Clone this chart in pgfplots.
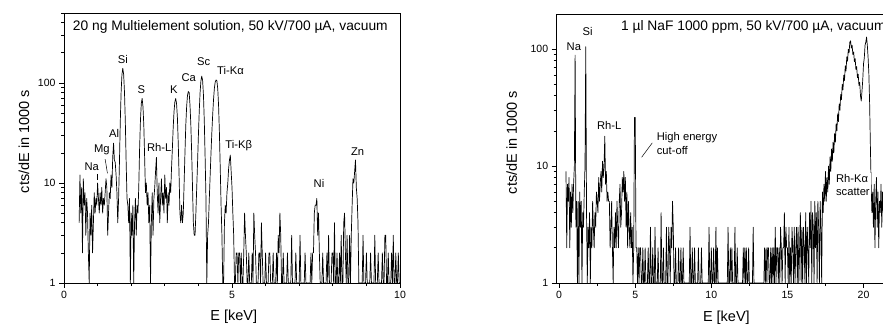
\documentclass[border=0pt]{standalone}
\usepackage{fontspec}
\setmainfont{Liberation Sans}
\usepackage{pgfplots}
\pgfplotsset{compat=1.18}

\begin{document}
\begin{tikzpicture}
\useasboundingbox (0pt,0pt) rectangle (883pt,325pt);

\begin{axis}[
  at={(64pt,42pt)}, anchor=south west,
  scale only axis, width=336pt, height=270pt,
  ymode=log,
  xmin=0, xmax=10, ymin=1, ymax=500,
  xtick={0,5,10}, minor x tick num=4,
  tick align=outside, tick pos=left,
  major tick length=5pt, minor tick length=3pt,
  tick style={black, line width=0.7pt},
  axis line style={line width=0.8pt},
  log ticks with fixed point,
  ticklabel style={font=\fontsize{10.5}{12}\selectfont},
  label style={font=\fontsize{14.5}{16}\selectfont},
  xlabel={E [keV]},
  ylabel={cts/dE in 1000 s},
  xlabel style={at={(axis description cs:0.505,-0.125)}, anchor=center},
  ylabel style={at={(axis description cs:-0.119,0.524)}, anchor=center},
  /pgf/number format/assume math mode=true,
]
\addplot[black, line width=0.7pt, line join=round] coordinates {
(0.450,4)(0.475,12)(0.500,5)(0.525,9)(0.550,2)(0.575,11)(0.600,6)(0.625,8)(0.650,3)(0.675,7)
(0.700,5)(0.725,2)(0.750,1)(0.775,5)(0.800,3)(0.825,6)(0.850,2)(0.875,4)(0.900,8)(0.925,5)
(0.950,7)(0.975,6)(1.000,10)(1.025,7)(1.050,5)(1.075,8)(1.100,6)(1.125,9)(1.150,5)(1.175,7)
(1.200,6)(1.225,8)(1.250,11)(1.275,9)(1.300,3)(1.325,5)(1.350,8)(1.375,7)(1.400,12)(1.425,9)
(1.450,18)(1.475,25)(1.500,17)(1.525,16)(1.550,12)(1.575,8)(1.600,4)(1.625,7)(1.650,16)(1.675,41)
(1.700,81)(1.725,122)(1.750,140)(1.775,122)(1.800,81)(1.825,41)(1.850,16)(1.875,7)(1.900,6)(1.925,4)
(1.950,7)(1.975,1)(2.000,5)(2.025,3)(2.050,6)(2.075,1)(2.100,4)(2.125,7)(2.150,3)(2.175,6)
(2.200,5)(2.225,9)(2.250,22)(2.275,42)(2.300,62)(2.325,70)(2.350,58)(2.375,38)(2.400,18)(2.425,8)
(2.450,10)(2.475,6)(2.500,8)(2.525,4)(2.550,6)(2.575,1)(2.600,4)(2.625,8)(2.650,3)(2.675,7)
(2.700,9)(2.725,13)(2.750,18)(2.775,8)(2.800,5)(2.825,10)(2.850,4)(2.875,7)(2.900,11)(2.925,6)
(2.950,8)(2.975,5)(3.000,12)(3.025,7)(3.050,9)(3.075,4)(3.100,8)(3.125,6)(3.150,10)(3.175,8)
(3.200,14)(3.225,22)(3.250,36)(3.275,52)(3.300,65)(3.325,70)(3.350,62)(3.375,45)(3.400,25)(3.425,12)
(3.450,5)(3.475,4)(3.500,6)(3.525,4)(3.550,5)(3.575,10)(3.600,20)(3.625,38)(3.650,58)(3.675,75)
(3.700,82)(3.725,80)(3.750,60)(3.775,38)(3.800,20)(3.825,9)(3.850,4)(3.875,3)(3.900,3)(3.925,5)
(3.950,9)(3.975,16)(4.000,30)(4.025,52)(4.050,80)(4.075,105)(4.100,117)(4.125,106)(4.150,76)(4.175,42)
(4.200,18)(4.225,7)(4.250,1)(4.275,3)(4.300,4)(4.325,7)(4.350,12)(4.375,20)(4.400,32)(4.425,48)
(4.450,68)(4.475,88)(4.500,102)(4.525,107)(4.550,105)(4.575,88)(4.600,60)(4.625,32)(4.650,14)(4.675,6)
(4.700,3)(4.725,1)(4.750,1)(4.775,4)(4.800,6)(4.825,5)(4.850,8)(4.875,10)(4.900,14)(4.925,17)
(4.950,19)(4.975,13)(5.000,9)(5.025,5)(5.050,3)(5.075,1)(5.100,1)(5.125,2)(5.150,2)(5.175,1)
(5.200,2)(5.225,2)(5.250,1)(5.275,2)(5.300,1)(5.325,1)(5.350,2)(5.375,5)(5.400,3)(5.425,2)
(5.450,1)(5.475,1)(5.500,2)(5.525,1)(5.550,1)(5.575,1)(5.600,2)(5.625,1)(5.650,5)(5.675,3)
(5.700,2)(5.725,1)(5.750,1)(5.775,1)(5.800,2)(5.825,2)(5.850,1)(5.875,4)(5.900,2)(5.925,1)
(5.950,1)(5.975,1)(6.000,2)(6.025,1)(6.050,1)(6.075,1)(6.100,2)(6.125,2)(6.150,1)(6.175,1)
(6.200,1)(6.225,2)(6.250,1)(6.275,1)(6.300,1)(6.325,2)(6.350,1)(6.375,3)(6.400,2)(6.425,5)
(6.450,3)(6.475,1)(6.500,1)(6.525,2)(6.550,1)(6.575,1)(6.600,1)(6.625,1)(6.650,2)(6.675,1)
(6.700,1)(6.725,1)(6.750,1)(6.775,3)(6.800,1)(6.825,1)(6.850,1)(6.875,1)(6.900,2)(6.925,1)
(6.950,1)(6.975,1)(7.000,1)(7.025,3)(7.050,1)(7.075,1)(7.100,1)(7.125,1)(7.150,1)(7.175,2)
(7.200,1)(7.225,1)(7.250,1)(7.275,1)(7.300,1)(7.325,1)(7.350,2)(7.375,1)(7.400,2)(7.425,2)
(7.450,5)(7.475,6)(7.500,6)(7.525,7)(7.550,3)(7.575,5)(7.600,2)(7.625,1)(7.650,1)(7.675,1)
(7.700,2)(7.725,1)(7.750,1)(7.775,1)(7.800,1)(7.825,2)(7.850,1)(7.875,3)(7.900,1)(7.925,1)
(7.950,1)(7.975,2)(8.000,2)(8.025,1)(8.050,4)(8.075,1)(8.100,1)(8.125,2)(8.150,1)(8.175,1)
(8.200,2)(8.225,1)(8.250,3)(8.275,1)(8.300,1)(8.325,4)(8.350,5)(8.375,2)(8.400,1)(8.425,3)
(8.450,1)(8.475,1)(8.500,3)(8.525,1)(8.550,3)(8.575,6)(8.600,11)(8.625,10)(8.650,13)(8.675,17)
(8.700,9)(8.725,7)(8.750,4)(8.775,1)(8.800,1)(8.825,1)(8.850,1)(8.875,1)(8.900,3)(8.925,1)
(8.950,1)(8.975,1)(9.000,2)(9.025,1)(9.050,1)(9.075,1)(9.100,1)(9.125,2)(9.150,1)(9.175,1)
(9.200,1)(9.225,1)(9.250,3)(9.275,1)(9.300,1)(9.325,1)(9.350,2)(9.375,1)(9.400,1)(9.425,1)
(9.450,1)(9.475,2)(9.500,1)(9.525,1)(9.550,3)(9.575,3)(9.600,1)(9.625,1)(9.650,2)(9.675,1)
(9.700,1)(9.725,1)(9.750,2)(9.775,1)(9.800,3)(9.825,1)(9.850,1)(9.875,2)(9.900,1)(9.925,1)
(9.950,2)(9.975,1)(10.000,1)
};
\node[font=\fontsize{13.8}{16}\selectfont, inner sep=0pt, anchor=base west] at (axis cs:0.26,333) {20 ng Multielement solution, 50 kV/700 µA, vacuum};
\node[font=\fontsize{11.2}{13}\selectfont, inner sep=0pt] at (axis cs:0.825,14.6) {Na};
\draw[line width=0.5pt] (axis cs:0.975,12.3) -- (axis cs:0.975,10.7);
\node[font=\fontsize{11.2}{13}\selectfont, inner sep=0pt] at (axis cs:1.125,21.4) {Mg};
\draw[line width=0.5pt] (axis cs:1.224,17.3) -- (axis cs:1.293,12.5);
\node[font=\fontsize{11.2}{13}\selectfont, inner sep=0pt] at (axis cs:1.49,31.4) {Al};
\node[font=\fontsize{11.2}{13}\selectfont, inner sep=0pt] at (axis cs:1.75,172) {Si};
\node[font=\fontsize{11.2}{13}\selectfont, inner sep=0pt] at (axis cs:2.30,86.5) {S};
\node[font=\fontsize{11.2}{13}\selectfont, inner sep=0pt] at (axis cs:2.836,22.7) {Rh-L};
\node[font=\fontsize{11.2}{13}\selectfont, inner sep=0pt] at (axis cs:3.27,86.5) {K};
\node[font=\fontsize{11.2}{13}\selectfont, inner sep=0pt] at (axis cs:3.71,114) {Ca};
\node[font=\fontsize{11.2}{13}\selectfont, inner sep=0pt] at (axis cs:4.16,163) {Sc};
\node[font=\fontsize{11.2}{13}\selectfont, inner sep=0pt] at (axis cs:4.955,132) {Ti-Kα};
\node[font=\fontsize{11.2}{13}\selectfont, inner sep=0pt] at (axis cs:5.20,23.8) {Ti-Kβ};
\node[font=\fontsize{11.2}{13}\selectfont, inner sep=0pt] at (axis cs:7.59,9.8) {Ni};
\node[font=\fontsize{11.2}{13}\selectfont, inner sep=0pt] at (axis cs:8.74,20.6) {Zn};
\end{axis}

\begin{axis}[
  at={(556.7pt,42pt)}, anchor=south west,
  scale only axis, width=326.3pt, height=269pt,
  ymode=log,
  xmin=-0.16, xmax=21.28, ymin=1, ymax=200,
  axis x line*=box, axis y line*=left,
  xtick={0,5,10,15,20}, minor x tick num=1,
  tick align=outside, xtick pos=bottom, ytick pos=left,
  major tick length=5pt, minor tick length=3pt,
  tick style={black, line width=0.7pt},
  axis line style={line width=0.8pt, -},
  log ticks with fixed point,
  ticklabel style={font=\fontsize{10.5}{12}\selectfont},
  label style={font=\fontsize{14.5}{16}\selectfont},
  xlabel={E [keV]},
  ylabel={cts/dE in 1000 s},
  xlabel style={at={(axis description cs:0.52,-0.130)}, anchor=center},
  ylabel style={at={(axis description cs:-0.138,0.522)}, anchor=center},
  /pgf/number format/assume math mode=true,
]
\addplot[black, line width=0.7pt, line join=round] coordinates {
(0.45,9)(0.50,2)(0.55,7)(0.60,5)(0.65,8)(0.70,2)(0.75,6)(0.80,3)(0.85,7)(0.90,4)
(0.95,7)(1.00,10)(1.05,89)(1.10,3)(1.15,5)(1.20,1)(1.25,5)(1.30,1)(1.35,6)(1.40,3)
(1.45,5)(1.50,1)(1.55,4)(1.60,3)(1.65,6)(1.70,10)(1.75,105)(1.80,4)(1.85,1)(1.90,3)
(1.95,2)(2.00,4)(2.05,1)(2.10,3)(2.15,2)(2.20,5)(2.25,3)(2.30,2)(2.35,4)(2.40,3)
(2.45,6)(2.50,5)(2.55,4)(2.60,8)(2.65,5)(2.70,7)(2.75,9)(2.80,6)(2.85,11)(2.90,8)
(2.95,10)(3.00,18)(3.05,7)(3.10,9)(3.15,5)(3.20,6)(3.25,5)(3.30,5)(3.35,2)(3.40,3)
(3.45,5)(3.50,2)(3.55,1)(3.60,3)(3.65,2)(3.70,4)(3.75,2)(3.80,5)(3.85,3)(3.90,2)
(3.95,5)(4.00,7)(4.05,3)(4.10,4)(4.15,8)(4.20,6)(4.25,9)(4.30,5)(4.35,8)(4.40,3)
(4.45,6)(4.50,2)(4.55,5)(4.60,3)(4.65,2)(4.70,4)(4.75,2)(4.80,3)(4.85,1)(4.90,2)
(4.95,26)(5.00,26)(5.05,2)(5.10,2)(5.15,1)(5.20,2)(5.25,1)(5.30,2)(5.35,2)(5.40,1)
(5.45,1)(5.50,2)(5.55,1)(5.60,1)(5.65,2)(5.70,1)(5.75,1)(5.80,1)(5.85,2)(5.90,1)
(5.95,1)(6.00,3)(6.05,1)(6.10,1)(6.15,2)(6.20,1)(6.25,1)(6.30,3)(6.35,1)(6.40,1)
(6.45,1)(6.50,2)(6.55,1)(6.60,1)(6.65,1)(6.70,4)(6.75,1)(6.80,1)(6.85,2)(6.90,1)
(6.95,1)(7.00,1)(7.05,3)(7.10,1)(7.15,1)(7.20,3)(7.25,2)(7.30,1)(7.35,3)(7.40,2)
(7.45,5)(7.50,3)(7.55,1)(7.60,1)(7.65,2)(7.70,1)(7.75,1)(7.80,1)(7.85,2)(7.90,1)
(7.95,1)(8.00,2)(8.05,1)(8.10,1)(8.15,2)(8.20,1)(8.25,1)(8.30,1)(8.35,1)(8.40,1)
(8.45,1)(8.50,1)(8.55,1)(8.60,3)(8.65,1)(8.70,1)(8.75,2)(8.80,1)(8.85,1)(8.90,2)
(8.95,1)(9.00,1)(9.05,1)(9.10,1)(9.15,2)(9.20,1)(9.25,1)(9.30,1)(9.35,2)(9.40,1)
(9.45,1)(9.50,1)(9.55,1)(9.60,1)(9.65,1)(9.70,1)(9.75,1)(9.80,1)(9.85,3)(9.90,1)
(9.95,1)(10.00,2)(10.05,1)(10.10,1)(10.15,2)(10.20,1)(10.25,1)(10.30,3)(10.35,1)(10.40,2)
(10.45,1)(10.50,1)(10.55,1)(10.60,1)(10.65,1)(10.70,1)(10.75,1)(10.80,1)(10.85,1)(10.90,1)
(10.95,1)(11.00,1)(11.05,1)(11.10,3)(11.15,1)(11.20,1)(11.25,2)(11.30,1)(11.35,2)(11.40,1)
(11.45,1)(11.50,1)(11.55,3)(11.60,1)(11.65,1)(11.70,2)(11.75,1)(11.80,1)(11.85,1)(11.90,1)
(11.95,1)(12.00,1)(12.05,1)(12.10,2)(12.15,1)(12.20,2)(12.25,1)(12.30,2)(12.35,1)(12.40,1)
(12.45,2)(12.50,1)(12.55,1)(12.60,1)(12.65,1)(12.70,1)(12.75,3)(12.80,1)(12.85,1)(12.90,1)
(12.95,1)(13.00,1)(13.05,1)(13.10,1)(13.15,1)(13.20,1)(13.25,1)(13.30,1)(13.35,1)(13.40,1)
(13.45,1)(13.50,2)(13.55,1)(13.60,2)(13.65,1)(13.70,2)(13.75,2)(13.80,1)(13.85,1)(13.90,2)
(13.95,1)(14.00,2)(14.05,1)(14.10,2)(14.15,1)(14.20,3)(14.25,1)(14.30,2)(14.35,2)(14.40,1)
(14.45,2)(14.50,1)(14.55,3)(14.60,2)(14.65,1)(14.70,2)(14.75,2)(14.80,4)(14.85,1)(14.90,3)
(14.95,2)(15.00,2)(15.05,1)(15.10,3)(15.15,1)(15.20,2)(15.25,1)(15.30,3)(15.35,2)(15.40,1)
(15.45,3)(15.50,1)(15.55,2)(15.60,3)(15.65,1)(15.70,3)(15.75,1)(15.80,2)(15.85,4)(15.90,1)
(15.95,3)(16.00,1)(16.05,3)(16.10,2)(16.15,1)(16.20,4)(16.25,1)(16.30,3)(16.35,2)(16.40,1)
(16.45,4)(16.50,2)(16.55,5)(16.60,1)(16.65,4)(16.70,3)(16.75,1)(16.80,5)(16.85,2)(16.90,4)
(16.95,1)(17.00,5)(17.05,3)(17.10,1)(17.15,5)(17.20,3)(17.25,1)(17.30,6)(17.35,4)(17.40,7)
(17.45,5)(17.50,9)(17.55,5)(17.60,8)(17.65,6)(17.70,10)(17.75,7)(17.80,12)(17.85,9)(17.90,14)
(17.95,11)(18.00,16)(18.05,13)(18.10,19)(18.15,16)(18.20,23)(18.25,20)(18.30,28)(18.35,24)(18.40,34)
(18.45,30)(18.50,41)(18.55,37)(18.60,50)(18.65,45)(18.70,60)(18.75,54)(18.80,72)(18.85,65)(18.90,86)
(18.95,79)(19.00,100)(19.05,93)(19.10,115)(19.15,118)(19.20,102)(19.25,108)(19.30,90)(19.35,95)(19.40,78)
(19.45,83)(19.50,67)(19.55,71)(19.60,57)(19.65,61)(19.70,49)(19.75,52)(19.80,40)(19.85,36)(19.90,44)
(19.95,55)(20.00,75)(20.05,84)(20.10,108)(20.15,115)(20.20,127)(20.25,108)(20.30,85)(20.35,62)(20.40,35)
(20.45,15)(20.50,7)(20.55,4)(20.60,6)(20.65,3)(20.70,7)(20.75,2)(20.80,5)(20.85,8)(20.90,3)
(20.95,6)(21.00,2)(21.05,5)(21.10,4)(21.15,7)(21.20,3)(21.25,6)(21.30,4)
};
\node[font=\fontsize{13.8}{16}\selectfont, inner sep=0pt, anchor=base west] at (axis cs:4.06,145) {1 µl NaF 1000 ppm, 50 kV/700 µA, vacuum};
\node[font=\fontsize{11.2}{13}\selectfont, inner sep=0pt] at (axis cs:0.97,104.6) {Na};
\node[font=\fontsize{11.2}{13}\selectfont, inner sep=0pt] at (axis cs:1.87,142.5) {Si};
\node[font=\fontsize{11.2}{13}\selectfont, inner sep=0pt] at (axis cs:3.29,22.1) {Rh-L};
\node[font=\fontsize{11.2}{13.4}\selectfont, inner sep=0pt, anchor=west, align=left] at (axis cs:6.41,15.6) {High energy\\cut-off};
\draw[line width=0.5pt] (axis cs:5.42,11.9) -- (axis cs:6.12,15.8);
\node[font=\fontsize{11.2}{13.4}\selectfont, inner sep=1pt, anchor=west, align=left, fill=white] at (axis cs:18.12,6.88) {Rh-Kα\\scatter};
\end{axis}
\end{tikzpicture}
\end{document}
